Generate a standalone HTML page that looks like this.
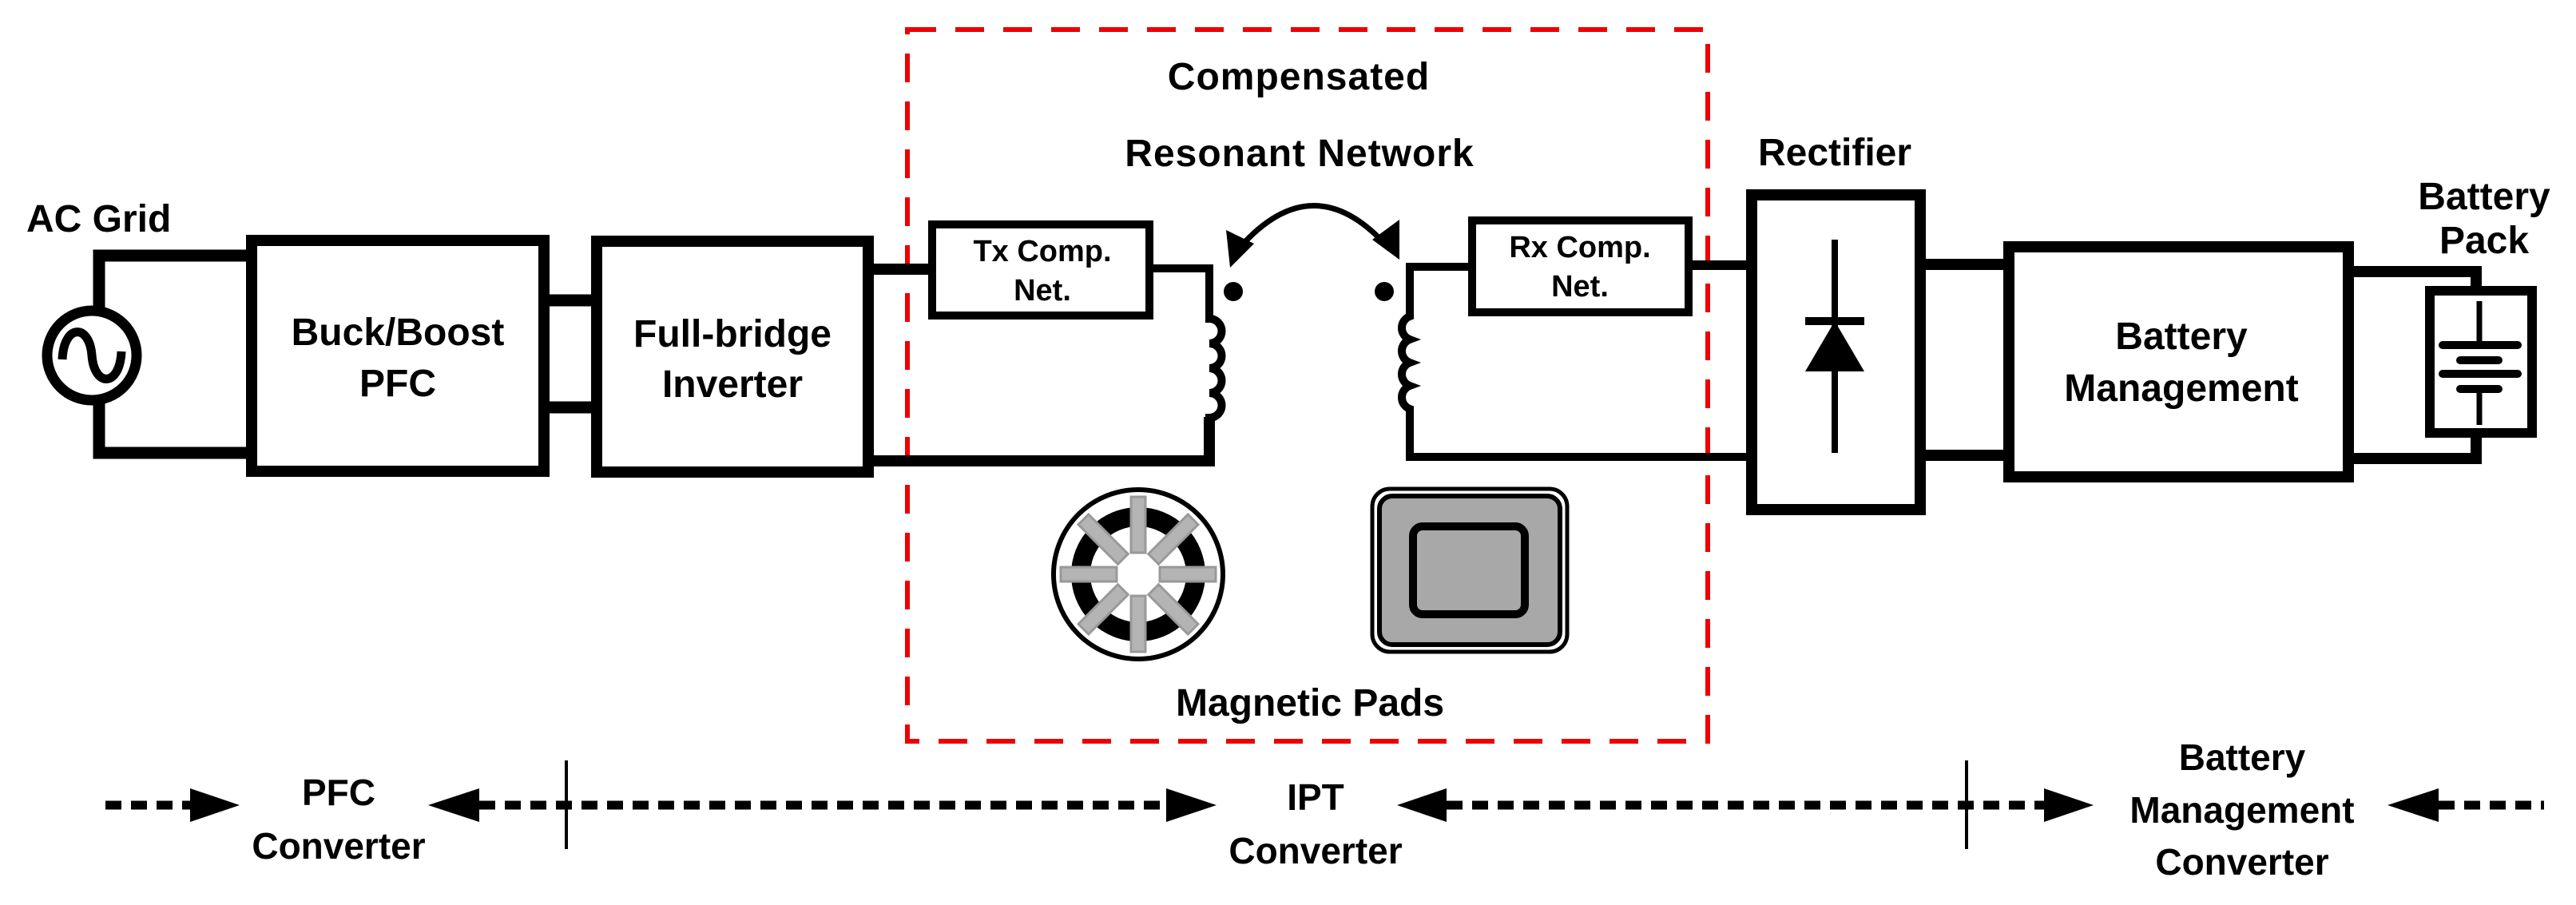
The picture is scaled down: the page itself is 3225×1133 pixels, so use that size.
<!DOCTYPE html>
<html><head><meta charset="utf-8"><style>
html,body{margin:0;padding:0;background:#fff;}
svg{display:block;}
text{font-family:"Liberation Sans",Arial,sans-serif;font-weight:bold;fill:#000;}
</style></head><body>
<svg width="3225" height="1133" viewBox="0 0 3225 1133" xmlns="http://www.w3.org/2000/svg">
<!-- red dashed box -->
<rect x="1136" y="37" width="1002" height="891" fill="none" stroke="#e00" stroke-width="6" stroke-dasharray="36,24"/>

<!-- AC source -->
<text x="33" y="290" font-size="48">AC Grid</text>
<path d="M124,386 V320 H310 M124,505 V567 H310" fill="none" stroke="#000" stroke-width="15"/>
<circle cx="115" cy="445" r="56" fill="#fff" stroke="#000" stroke-width="13"/>
<path d="M78,450 C80,405 112,405 115,445 C118,485 150,485 152,440" fill="none" stroke="#000" stroke-width="11"/>

<!-- Buck/Boost -->
<rect x="315" y="301" width="366" height="289" fill="#fff" stroke="#000" stroke-width="14"/>
<text x="498" y="432" font-size="48" text-anchor="middle">Buck/Boost</text>
<text x="498" y="496" font-size="48" text-anchor="middle">PFC</text>
<path d="M688,376 H740 M688,510 H740" stroke="#000" stroke-width="15"/>
<!-- Full-bridge -->
<rect x="747" y="302" width="340" height="289" fill="#fff" stroke="#000" stroke-width="14"/>
<text x="917" y="434" font-size="48" text-anchor="middle">Full-bridge</text>
<text x="917" y="497" font-size="48" text-anchor="middle">Inverter</text>
<path d="M1094,337 H1162 M1094,577 H1514 V522" fill="none" stroke="#000" stroke-width="14"/>

<!-- Tx comp -->
<rect x="1167" y="281" width="272" height="114" fill="#fff" stroke="#000" stroke-width="10"/>
<text x="1305" y="327" font-size="38" text-anchor="middle">Tx Comp.</text>
<text x="1305" y="376" font-size="38" text-anchor="middle">Net.</text>
<path d="M1444,336 H1514 V399 a15.5,15.5 0 0 1 0,31 a15.5,15.5 0 0 1 0,31 a15.5,15.5 0 0 1 0,31 a15.5,15.5 0 0 1 0,31 V577" fill="none" stroke="#000" stroke-width="10"/>
<circle cx="1544" cy="365" r="12" fill="#000"/>

<!-- Rx side -->
<path d="M1838,334 H1765 V396 a15.5,15.5 0 0 0 0,29 a15.5,15.5 0 0 0 0,29 a15.5,15.5 0 0 0 0,29 a15.5,15.5 0 0 0 0,29 V572 H2190" fill="none" stroke="#000" stroke-width="10"/>
<path d="M2119,332 H2190" stroke="#000" stroke-width="12"/>
<rect x="1843" y="276" width="271" height="115" fill="#fff" stroke="#000" stroke-width="10"/>
<text x="1978" y="322" font-size="38" text-anchor="middle">Rx Comp.</text>
<text x="1978" y="371" font-size="38" text-anchor="middle">Net.</text>
<circle cx="1733" cy="365" r="12" fill="#000"/>

<!-- curved arrow -->
<path d="M1552,310 Q1645,205 1738,310" fill="none" stroke="#000" stroke-width="7"/>
<polygon points="1540,335 1535,288 1570,305" fill="#000"/>
<polygon points="1752,325 1752,275 1718,300" fill="#000"/>

<text x="1626" y="112" font-size="48" text-anchor="middle" letter-spacing="1">Compensated</text>
<text x="1627" y="208" font-size="48" text-anchor="middle" letter-spacing="1">Resonant Network</text>

<!-- circular pad -->
<circle cx="1425" cy="719" r="106" fill="#fff" stroke="#000" stroke-width="6"/>
<circle cx="1425" cy="719" r="72" fill="none" stroke="#000" stroke-width="24"/>
<g fill="#b4b4b4" stroke="#999" stroke-width="3">
<rect x="1416" y="622" width="18" height="70" transform="rotate(0 1425 719)"/>
<rect x="1416" y="622" width="18" height="70" transform="rotate(45 1425 719)"/>
<rect x="1416" y="622" width="18" height="70" transform="rotate(90 1425 719)"/>
<rect x="1416" y="622" width="18" height="70" transform="rotate(135 1425 719)"/>
<rect x="1416" y="622" width="18" height="70" transform="rotate(180 1425 719)"/>
<rect x="1416" y="622" width="18" height="70" transform="rotate(225 1425 719)"/>
<rect x="1416" y="622" width="18" height="70" transform="rotate(270 1425 719)"/>
<rect x="1416" y="622" width="18" height="70" transform="rotate(315 1425 719)"/>
</g>
<!-- square pad -->
<rect x="1718" y="612" width="244" height="204" rx="22" fill="#fff" stroke="#000" stroke-width="5"/>
<rect x="1727" y="621" width="226" height="186" rx="16" fill="#a8a8a8" stroke="#000" stroke-width="6"/>
<rect x="1769" y="659" width="140" height="110" rx="12" fill="#a8a8a8" stroke="#000" stroke-width="10"/>
<text x="1640" y="896" font-size="48" text-anchor="middle">Magnetic Pads</text>

<!-- Rectifier -->
<text x="2297" y="207" font-size="48" text-anchor="middle">Rectifier</text>
<rect x="2193" y="244" width="211" height="394" fill="#fff" stroke="#000" stroke-width="14"/>
<path d="M2297,300 V567" stroke="#000" stroke-width="8"/>
<path d="M2260,402 H2334" stroke="#000" stroke-width="10"/>
<polygon points="2297,402 2334,465 2260,465" fill="#000"/>
<path d="M2411,331 H2508 M2411,570 H2508" stroke="#000" stroke-width="14"/>

<!-- Battery Management -->
<rect x="2515" y="309" width="425" height="288" fill="#fff" stroke="#000" stroke-width="14"/>
<text x="2731" y="437" font-size="48" text-anchor="middle">Battery</text>
<text x="2731" y="502" font-size="48" text-anchor="middle">Management</text>
<path d="M2947,340 H3100 V358 M2947,574 H3100 V548" fill="none" stroke="#000" stroke-width="14"/>

<!-- Battery pack -->
<text x="3110" y="262" font-size="48" text-anchor="middle">Battery</text>
<text x="3110" y="317" font-size="48" text-anchor="middle">Pack</text>
<rect x="3042" y="364" width="128" height="178" fill="#fff" stroke="#000" stroke-width="12"/>
<path d="M3104,377 V430 M3104,487 V532" stroke="#000" stroke-width="7"/>
<path d="M3058,432 H3152 M3080,451 H3128 M3058,468 H3152 M3080,487 H3128" stroke="#000" stroke-width="10" stroke-linecap="round"/>

<!-- bottom axis -->
<g stroke="#000" stroke-width="11" stroke-dasharray="20,12">
<path d="M132,1008 H240"/>
<path d="M600,1008 H1460"/>
<path d="M1811,1008 H2560"/>
<path d="M3053,1008 H3185"/>
</g>
<path d="M709,952 V1063 M2462,952 V1063" stroke="#000" stroke-width="4"/>
<g fill="#000">
<polygon points="238,987 300,1008 238,1029"/>
<polygon points="600,987 536,1008 600,1029"/>
<polygon points="1460,987 1523,1008 1460,1029"/>
<polygon points="1811,987 1749,1008 1811,1029"/>
<polygon points="2559,987 2621,1008 2559,1029"/>
<polygon points="3053,987 2989,1008 3053,1029"/>
</g>
<text x="424" y="1008" font-size="46" text-anchor="middle">PFC</text>
<text x="424" y="1075" font-size="46" text-anchor="middle">Converter</text>
<text x="1647" y="1014" font-size="46" text-anchor="middle">IPT</text>
<text x="1647" y="1081" font-size="46" text-anchor="middle">Converter</text>
<text x="2807" y="964" font-size="46" text-anchor="middle">Battery</text>
<text x="2807" y="1030" font-size="46" text-anchor="middle">Management</text>
<text x="2807" y="1095" font-size="46" text-anchor="middle">Converter</text>
</svg>
</body></html>
